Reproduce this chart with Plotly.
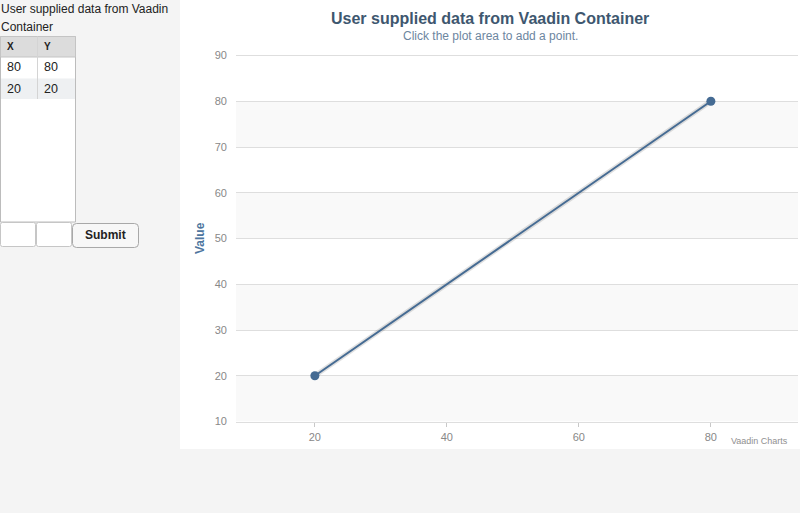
import plotly.graph_objects as go

# data
x_vals = [80, 20]
y_vals = [80, 20]
x_ticks = [20, 40, 60, 80]
y_ticks = [10, 20, 30, 40, 50, 60, 70, 80, 90]

title = 'User supplied data from Vaadin Container'
subtitle = 'Click the plot area to add a point.'
panel_caption = ['User supplied data from Vaadin', 'Container']
col_names = ['X', 'Y']

W, H = 800, 513
FONT = 'Liberation Sans, Arial, sans-serif'
LINE = '#456b93'


def px(x):
    return x / W


def py(y):
    return 1 - y / H


def rrect(x0, y0, x1, y1, r):
    # rounded rectangle path in paper coords from pixel coords
    pts = [
        (x0 + r, y0), (x1 - r, y0), ('Q', x1, y0, x1, y0 + r),
        (x1, y1 - r), ('Q', x1, y1, x1 - r, y1),
        (x0 + r, y1), ('Q', x0, y1, x0, y1 - r),
        (x0, y0 + r), ('Q', x0, y0, x0 + r, y0),
    ]
    d = 'M %f,%f' % (px(pts[0][0]), py(pts[0][1]))
    for p in pts[1:]:
        if p[0] == 'Q':
            d += ' Q %f,%f %f,%f' % (px(p[1]), py(p[2]), px(p[3]), py(p[4]))
        else:
            d += ' L %f,%f' % (px(p[0]), py(p[1]))
    return d + ' Z'


def label(text, x, y, size, color, xanchor='center', angle=0):
    return dict(text=text, x=px(x), y=py(y), xref='paper', yref='paper',
                xanchor=xanchor, yanchor='middle', showarrow=False, textangle=angle,
                font=dict(family=FONT, size=size, color=color))


fig = go.Figure()

# faint shadow under the line
fig.add_trace(go.Scatter(x=x_vals, y=y_vals, mode='lines',
                         line=dict(color='rgba(0,0,0,0.12)', width=5),
                         hoverinfo='skip', showlegend=False))
fig.add_trace(go.Scatter(x=x_vals, y=y_vals, mode='lines+markers',
                         line=dict(color=LINE, width=2),
                         marker=dict(color=LINE, size=9),
                         showlegend=False))

shapes = []
# chart container
shapes.append(dict(type='rect', xref='paper', yref='paper', layer='below',
                   x0=px(180), x1=px(800), y0=py(449), y1=py(0),
                   fillcolor='white', line=dict(width=0)))
# alternating bands
for i in range(0, len(y_ticks) - 1, 2):
    shapes.append(dict(type='rect', xref='paper', yref='y', layer='below',
                       x0=px(236), x1=px(798), y0=y_ticks[i], y1=y_ticks[i + 1],
                       fillcolor='#f9f9f9', line=dict(width=0)))

# table on the left
shapes.append(dict(type='rect', xref='paper', yref='paper',
                   x0=px(0.5), x1=px(75.5), y0=py(222), y1=py(36.5),
                   fillcolor='white', line=dict(color='#bcbcbc', width=1)))
shapes.append(dict(type='rect', xref='paper', yref='paper',
                   x0=px(0.5), x1=px(75.5), y0=py(57), y1=py(36.5),
                   fillcolor='#dcdcdc', line=dict(color='#c4c4c4', width=1)))
for r in range(len(x_vals)):
    if r % 2 == 1:
        shapes.append(dict(type='rect', xref='paper', yref='paper',
                           x0=px(1), x1=px(75), y0=py(57 + 21 * (r + 1)), y1=py(57.5 + 21 * r),
                           fillcolor='#eef0f2', line=dict(width=0)))
shapes.append(dict(type='line', xref='paper', yref='paper',
                   x0=px(37.5), x1=px(37.5), y0=py(36.5), y1=py(57 + 21 * len(x_vals)),
                   line=dict(color='#d4d4d4', width=1)))

# input fields and button
shapes.append(dict(type='path', xref='paper', yref='paper',
                   path=rrect(0.5, 222.5, 35.5, 246.5, 2),
                   fillcolor='white', line=dict(color='#c6c6c6', width=1)))
shapes.append(dict(type='path', xref='paper', yref='paper',
                   path=rrect(36.5, 222.5, 71.5, 246.5, 2),
                   fillcolor='white', line=dict(color='#c6c6c6', width=1)))
shapes.append(dict(type='path', xref='paper', yref='paper',
                   path=rrect(72.5, 223.5, 138.5, 247.5, 4),
                   fillcolor='#f7f7f7', line=dict(color='#a8a8a8', width=1)))

annotations = [
    label('<b>%s</b>' % title, 490, 19, 16, '#3E576F'),
    label(subtitle, 490, 36, 12, '#6D869F'),
    label('<b>Value</b>', 200, 238, 12, '#4D759E', angle=-90),
    label('Vaadin Charts', 790, 441, 9, '#909090', xanchor='right'),
]
for i, line in enumerate(panel_caption):
    annotations.append(label(line, -1, 9 + 18 * i, 12, '#222222', xanchor='left'))
for j, name in enumerate(col_names):
    annotations.append(label('<b>%s</b>' % name, 5 + 37 * j, 46.5, 10, '#222222', xanchor='left'))
for r, (xv, yv) in enumerate(zip(x_vals, y_vals)):
    for j, v in enumerate([xv, yv]):
        annotations.append(label(str(v), 5 + 37 * j, 67.5 + 21 * r, 12.5, '#222222', xanchor='left'))
annotations.append(label('<b>Submit</b>', 105.5, 235.5, 12, '#222222'))

fig.update_layout(
    width=W, height=H,
    margin=dict(l=0, r=0, t=0, b=0, autoexpand=False),
    paper_bgcolor='#f4f4f4',
    plot_bgcolor='rgba(0,0,0,0)',
    shapes=shapes,
    annotations=annotations,
    font=dict(family=FONT),
)
fig.update_xaxes(domain=[px(236), px(798)], range=[8.05, 93.2], tickvals=x_ticks,
                 showgrid=False, zeroline=False,
                 showline=True, mirror=True, linecolor='#dedede', linewidth=1,
                 ticks='outside', ticklen=4, tickcolor='#c8c8c8',
                 tickfont=dict(size=11, color='#888888'), ticklabelstandoff=1)
fig.update_yaxes(domain=[py(421.5), py(55.5)], range=[10, 90], tickvals=y_ticks,
                 showgrid=True, gridcolor='#dedede', gridwidth=1, zeroline=False, showline=False,
                 tickfont=dict(size=11, color='#888888'), ticks='', ticklabelstandoff=8)

fig.write_html('out.html', config={'displayModeBar': False},
               post_script="document.body.style.margin='0';document.body.style.overflow='hidden';")
